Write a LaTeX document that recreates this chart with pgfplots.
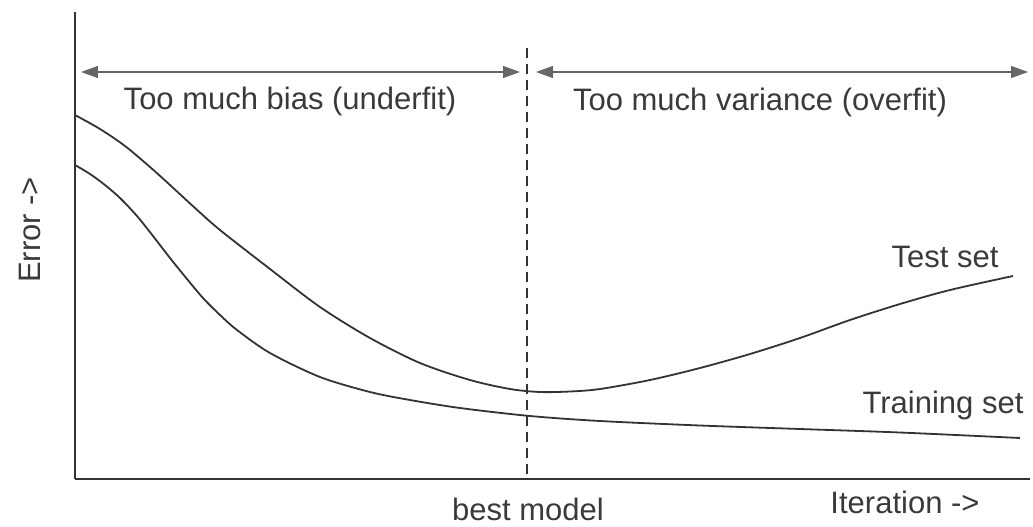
\documentclass[border=0pt]{standalone}
\usepackage{pgfplots}
\pgfplotsset{compat=1.18}
\usepackage{fontspec}
\setmainfont{Liberation Sans}
\usetikzlibrary{arrows.meta}
\definecolor{ink}{HTML}{333333}
\definecolor{txt}{HTML}{3A3A3A}
\tikzset{lbl/.style={font=\fontsize{15.5}{18}\selectfont, text=txt, inner sep=0pt}}
\begin{document}
\begin{tikzpicture}
\begin{axis}[
  x=0.5pt, y=0.5pt,
  xmin=75, xmax=1030, ymin=47, ymax=514,
  axis x line=bottom, axis y line=left,
  axis line style={-, draw=ink, line width=1.2pt},
  xtick=\empty, ytick=\empty,
  clip=false,
]
% Test set
\addplot[smooth, tension=0.5, ink, line width=0.9pt] coordinates {
(75,411) (100,397) (125,380) (150,359) (170,341) (195,318) (220,296) (270,257)
(320,219) (370,188) (420,163) (470,146) (510,137) (540,134) (570,134.5) (600,137)
(650,146) (700,158) (750,172) (800,188) (850,206) (900,222) (950,236) (1013,250)};
% Training set
\addplot[smooth, tension=0.5, ink, line width=0.9pt] coordinates {
(75,361) (90,352) (105,341) (120,328) (137,310) (153,290) (170,268) (187,247)
(203,228) (220,211) (237,196) (270,173) (320,149) (370,134) (410,126) (460,118)
(530,110) (600,105) (700,100.5) (800,97) (900,93.5) (1020,88)};
% best model dashed line
\addplot[ink, line width=0.7pt, dash pattern=on 5pt off 3pt] coordinates {(527,478) (527,47)};
% arrows
\addplot[{Triangle[length=8.5pt,width=6pt]}-{Triangle[length=8.5pt,width=6pt]}, color=gray!80!black, line width=0.6pt] coordinates {(81,454) (520,454)};
\addplot[{Triangle[length=8.5pt,width=6pt]}-{Triangle[length=8.5pt,width=6pt]}, color=gray!80!black, line width=0.6pt] coordinates {(536,454) (1028,454)};
% labels
\node[lbl, anchor=base] at (axis cs:290,417) {Too much bias (underfit)};
\node[lbl, anchor=base] at (axis cs:760,416) {Too much variance (overfit)};
\node[lbl, anchor=base] at (axis cs:945,259) {Test set};
\node[lbl, anchor=base] at (axis cs:943,113) {Training set};
\node[lbl, anchor=base] at (axis cs:528,6) {best model};
\node[lbl, anchor=base] at (axis cs:905,13) {Iteration ->};
\node[lbl, anchor=base, rotate=90] at (axis cs:41,296) {Error ->};
\coordinate (bl) at (axis cs:0,0);
\coordinate (tr) at (axis cs:1033,526);
\end{axis}
\pgfresetboundingbox
\path[use as bounding box] (bl) rectangle (tr);
\end{tikzpicture}
\end{document}
